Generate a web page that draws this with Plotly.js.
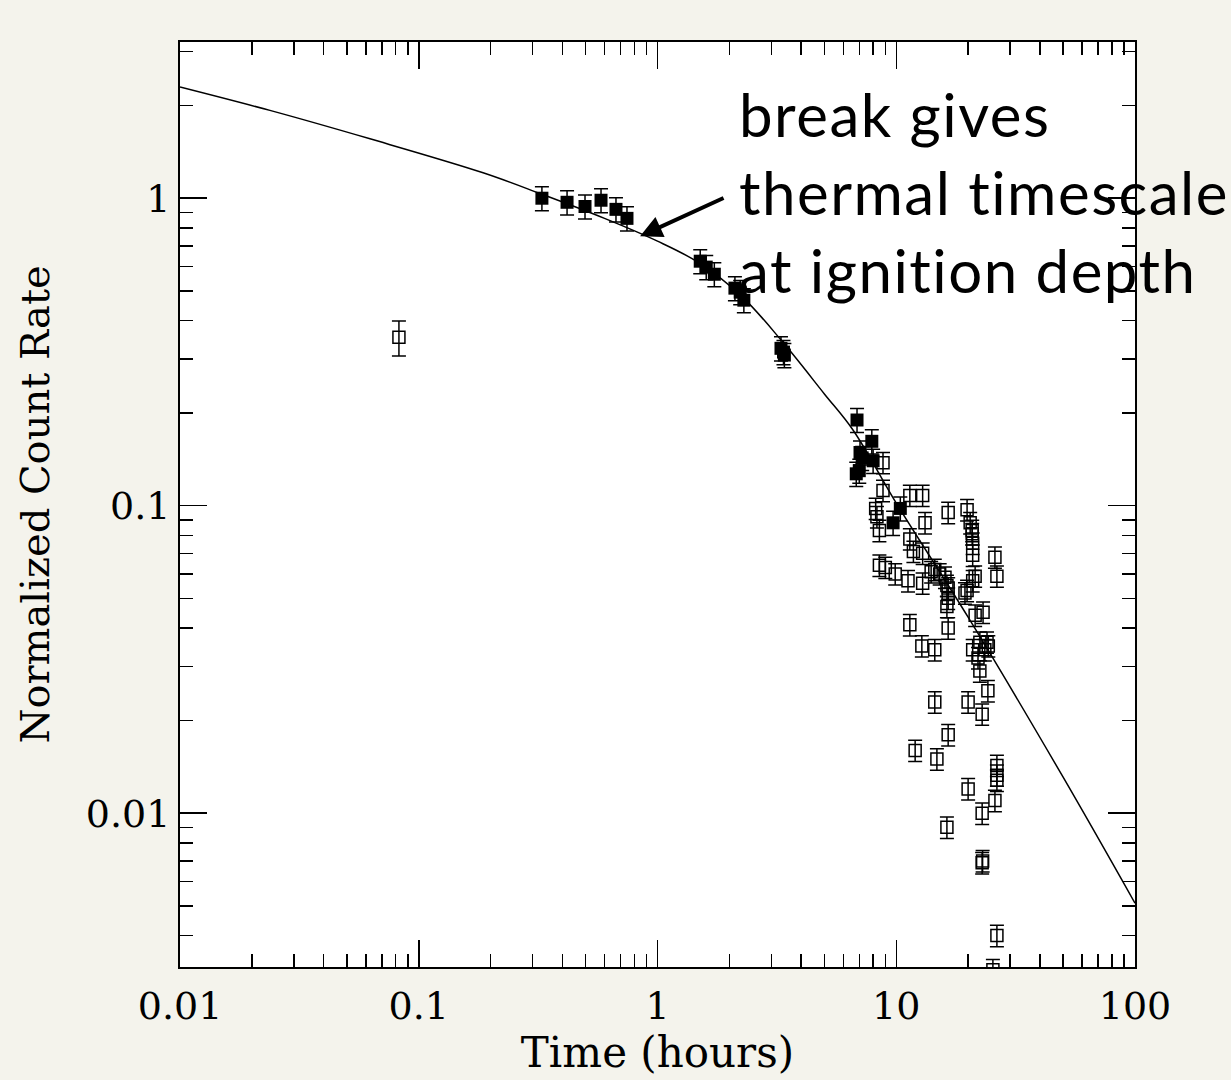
<!DOCTYPE html>
<html>
<head>
<meta charset="utf-8">
<script src="https://cdn.plot.ly/plotly-3.0.1.min.js"></script>
<style>
  html, body { margin: 0; padding: 0; background: #f4f3ec; }
  #chart { width: 1231px; height: 1080px; }
  .annotation-text { letter-spacing: 1.5px; font-variant-ligatures: none; }
</style>
</head>
<body>
<div id="chart"></div>
<script>
// Tick labels
const xTickVals = [0.01, 0.1, 1, 10, 100];
const xTickText = ["0.01", "0.1", "1", "10", "100"];
const yTickVals = [0.01, 0.1, 1];
const yTickText = ["0.01", "0.1", "1"];

// Model curve (solid line)
const modelX = [0.01, 0.0238, 0.0625, 0.186, 0.322, 0.6, 1, 1.5, 2.27, 3.3, 5, 6.6, 10, 20, 50, 100];
const modelY = [2.30, 1.93, 1.56, 1.21, 1.036, 0.86, 0.725, 0.615, 0.477, 0.345, 0.231, 0.176, 0.102, 0.0434, 0.0131, 0.0051];

// Filled squares
const filledX = [0.328, 0.418, 0.497, 0.58, 0.67, 0.745, 1.51, 1.60, 1.73, 2.11, 2.22, 2.30, 3.29, 3.37, 3.40,
                 6.85, 7.05, 7.0, 7.2, 7.9, 8.0, 6.8, 10.4, 9.7];
const filledY = [1.0, 0.97, 0.94, 0.985, 0.92, 0.86, 0.624, 0.597, 0.566, 0.51, 0.495, 0.466, 0.325, 0.316, 0.309,
                 0.19, 0.149, 0.130, 0.143, 0.162, 0.14, 0.127, 0.098, 0.088];

// Early open square
const earlyX = [0.0826];
const earlyY = [0.353];

// Open squares (late cluster)
const openX = [8.8, 8.8, 8.2, 8.3, 8.5, 8.5, 11.4, 12.9, 13.2, 16.5, 19.8, 20.4, 20.8, 20.8,
               11.4, 11.8, 12.9, 20.9, 20.9, 9.0, 9.9, 11.2, 12.9, 14.5, 16.0, 16.5, 16.5, 19.4,
               20.9, 25.9, 26.4, 21.4, 19.8, 23.1, 16.3, 16.5, 11.4, 12.8, 14.5, 21.4, 20.9, 22.4,
               24.0, 22.0, 23.5, 24.3, 22.4, 24.2, 14.5, 20.0, 22.9, 16.5, 12.0, 14.8, 26.4, 26.4,
               26.4, 20.0, 25.9, 22.9, 16.3, 22.9, 23.0, 26.4, 25.4, 14.0, 15.2, 16.3];
const openY = [0.138, 0.112, 0.098, 0.092, 0.083, 0.064, 0.108, 0.108, 0.088, 0.095, 0.097, 0.088, 0.083, 0.081,
               0.078, 0.071, 0.070, 0.0755, 0.069, 0.063, 0.060, 0.057, 0.056, 0.062, 0.0585, 0.054, 0.050, 0.052,
               0.057, 0.068, 0.059, 0.059, 0.053, 0.045, 0.047, 0.040, 0.041, 0.035, 0.034, 0.044, 0.034, 0.036,
               0.036, 0.032, 0.034, 0.035, 0.029, 0.025, 0.023, 0.023, 0.021, 0.018, 0.016, 0.015, 0.0143, 0.0133,
               0.0128, 0.012, 0.011, 0.010, 0.009, 0.0069, 0.0070, 0.0040, 0.0031, 0.061, 0.060, 0.055];

const annotationLines = ["break gives", "thermal timescale", "at ignition depth"];
const arrowTip = {x: 0.845, y: 0.752};

const errStyle = (pct) => ({type: 'percent', value: pct, visible: true, color: 'black', thickness: 1.5, width: 7});

const traces = [
  {x: modelX, y: modelY, mode: 'lines', type: 'scatter', line: {color: 'black', width: 1.5, shape: 'spline', smoothing: 1}, hoverinfo: 'skip'},
  {x: earlyX, y: earlyY, mode: 'markers', type: 'scatter', error_y: errStyle(13),
   marker: {symbol: 'square-open', size: 12, color: 'black', line: {color: 'black', width: 1.5}}},
  {x: openX, y: openY, mode: 'markers', type: 'scatter', error_y: errStyle(8),
   marker: {symbol: 'square-open', size: 12, color: 'black', line: {color: 'black', width: 1.5}}},
  {x: filledX, y: filledY, mode: 'markers', type: 'scatter', error_y: errStyle(9),
   marker: {symbol: 'square', size: 13, color: 'black'}}
];

const axisCommon = {
  showline: true, linecolor: 'black', linewidth: 2, mirror: 'ticks',
  ticks: 'inside', ticklen: 27, tickwidth: 1.5, tickcolor: 'black',
  showgrid: false, zeroline: false, tickmode: 'array',
  tickfont: {family: 'DejaVu Serif', size: 38, color: 'black'},
  minor: {ticks: 'inside', ticklen: 13, tickwidth: 1.5, tickcolor: 'black', dtick: 'D1', showgrid: false}
};

const layout = {
  width: 1231, height: 1080,
  paper_bgcolor: '#f4f3ec', plot_bgcolor: 'white',
  margin: {l: 180, r: 96, t: 42, b: 113},
  showlegend: false,
  xaxis: Object.assign({}, axisCommon, {
    type: 'log', range: [-2, 2], tickvals: xTickVals, ticktext: xTickText, ticklabelstandoff: 4,
    title: {text: 'Time (hours)', font: {family: 'DejaVu Serif', size: 42, color: 'black'}, standoff: 10}
  }),
  yaxis: Object.assign({}, axisCommon, {
    type: 'log', range: [-2.5, 0.508], tickvals: yTickVals, ticktext: yTickText,
    title: {text: 'Normalized Count Rate', font: {family: 'DejaVu Serif', size: 40, color: 'black'}, standoff: 24}
  }),
  annotations: [
    {x: Math.log10(arrowTip.x), y: Math.log10(arrowTip.y), xref: 'x', yref: 'y', ax: 85, ay: -39, text: '',
     showarrow: true, arrowhead: 2, arrowsize: 1.1, arrowwidth: 4, arrowcolor: 'black'},
    {xref: 'paper', yref: 'paper', x: 0.583, y: 0.8375, xanchor: 'left', yanchor: 'middle', align: 'left',
     text: annotationLines.join('<br>'), showarrow: false,
     font: {family: 'Lato', size: 60, color: 'black'}}
  ]
};

Plotly.newPlot('chart', traces, layout, {displayModeBar: false, staticPlot: true});
</script>
</body>
</html>
